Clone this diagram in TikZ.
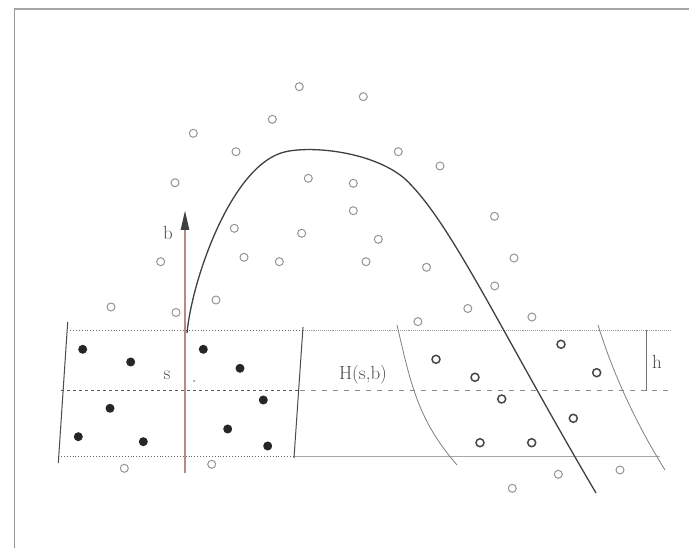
\documentclass[tikz,border=0pt]{standalone}
\usetikzlibrary{arrows.meta}
\begin{document}
\begin{tikzpicture}[x=1pt,y=-1pt,
  lc/.style={draw=black!42,line width=1pt},
  dc/.style={draw=black!72,line width=1.5pt},
  lbl/.style={font=\fontsize{19}{21}\selectfont,text=black!70,inner sep=0pt}]
\useasboundingbox (0,0) rectangle (689,548);
\fill[white] (0,0) rectangle (689,548);
% frame
\draw[black!35,line width=2pt] (14,9) -- (689,9);
\draw[black!40,line width=1pt] (14,9) -- (14,548);
% horizontal lines
\draw[black!60,line width=0.9pt,dotted] (70,330) -- (303,330);
\draw[black!40,line width=0.9pt,densely dotted] (303,330) -- (670,330);
\draw[black!65,line width=0.9pt,dashed] (61,390) -- (300,390);
\draw[black!45,line width=0.7pt,dash pattern=on 5pt off 6pt] (300,390) -- (670,390);
\draw[black!60,line width=0.9pt,dotted] (58,456) -- (294,456);
\draw[black!35,line width=0.8pt] (294,456) -- (660,456);
% vertical / slanted lines
\draw[black!70,line width=1pt] (67.7,322) -- (58.3,463);
\draw[black!70,line width=1pt] (303,327) -- (294,458);
\draw[black!50,line width=0.8pt] (397,325) .. controls (411,385) and (418,420) .. (457,465);
\draw[black!50,line width=0.8pt] (598,325) .. controls (615,380) and (640,430) .. (665,470);
% h bracket
\draw[black!55,line width=0.8pt] (646,330) -- (646,391);
\node[lbl] (h) at (657,362) {h};
% big curve
\draw[black!75,line width=1.3pt] (187,333) .. controls (192,280) and (230,170) .. (281,153)
  .. controls (305,145) and (370,150) .. (404,178)
  .. controls (450,220) and (500,330) .. (596,493);
% arrow b
\draw[draw={rgb,255:red,180;green,140;blue,130},line width=2.5pt,-{Triangle[length=20pt,width=8pt,color=black!75,fill=black!75]}] (185,473) -- (185,210);
\node[lbl] (b) at (168,233) {b};
\node[lbl] (s) at (167,375) {s};
\fill[black!50] (194,381) circle (1pt);
\node[lbl] (H) at (363,375) {H(s,b)};
% filled dots
\foreach \p in {(82.7,349.3),(130.7,362),(110,408.3),(78.3,436.7),(143.3,441.7),(203.3,349.3),(240,368.3),(263.3,400),(227.7,429),(267.7,446)}
  \fill[black!85] \p circle (4.5pt);
% dark open circles
\foreach \p in {(436,359.3),(475,377.3),(501.7,399),(573.3,418.3),(480,442.7),(531.7,442.7),(561,344.3),(596.7,372.7)}
  \draw[dc] \p circle (4pt);
% light open circles
\foreach \p in {(299.3,86.7),(363.3,96.7),(272.3,119.3),(193.3,133.3),(236,151.7),(398.3,151.7),(440,166),(175,182.7),(308.3,178.3),(353.3,183.3),(353.3,210.7),(234.3,228.3),(301.7,233.3),(378.3,239.3),(160.7,261.7),(244,257.3),(279.3,261.7),(366,261.7),(426.5,267.3),(216,300),(494.5,216.3),(514,258),(494.7,285.9),(467.8,308.5),(531.9,317),(417.9,321.6),(111,307),(176,312.5),(124.3,468.3),(211.7,464.3),(558.3,474.3),(620,470),(512.3,488.3)}
  \draw[lc] \p circle (4pt);
\end{tikzpicture}
\end{document}
